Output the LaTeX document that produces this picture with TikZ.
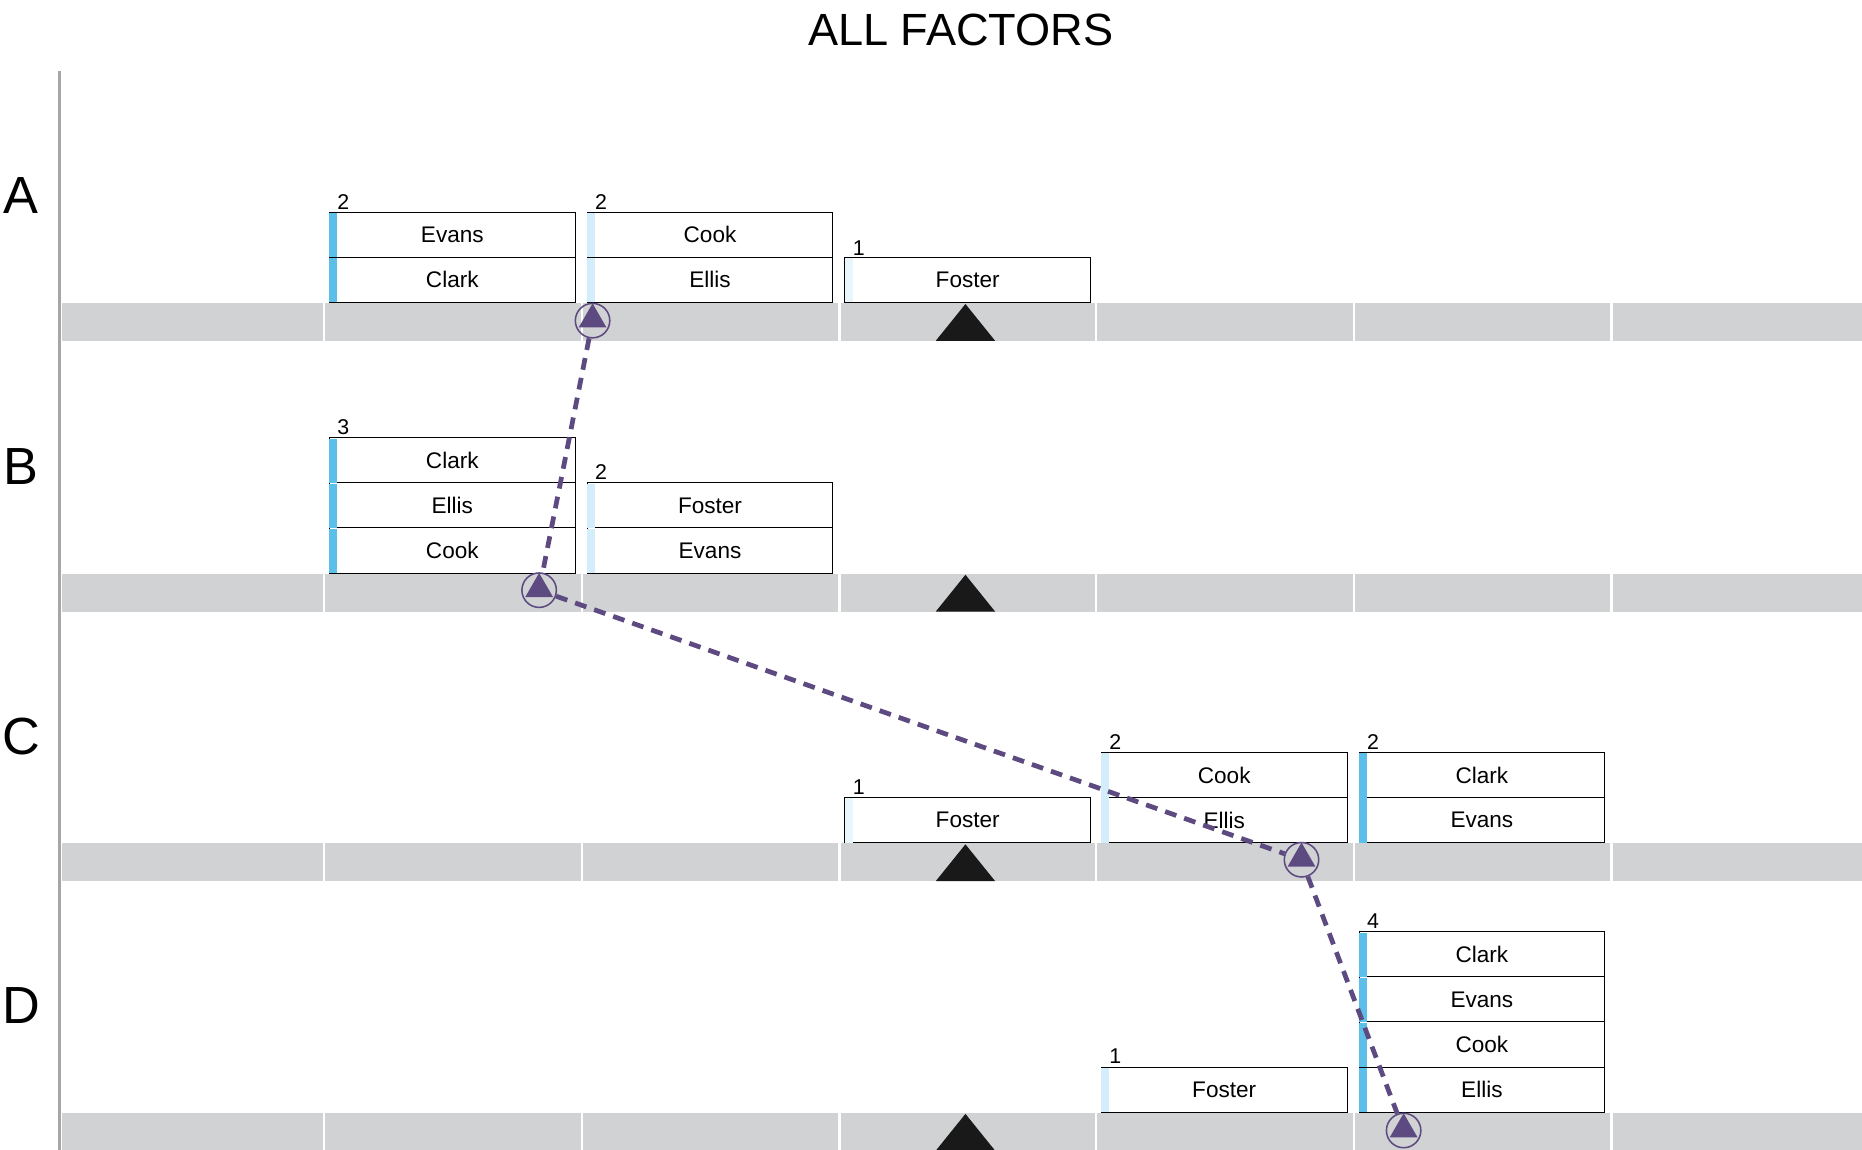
\documentclass[tikz,border=0pt]{standalone}
\usepackage{fontspec}
\setmainfont{Liberation Sans}
\usetikzlibrary{shapes.geometric}
\definecolor{barg}{HTML}{D1D2D4}
\definecolor{dblue}{HTML}{5BBFEA}
\definecolor{lblue}{HTML}{D3EDFA}
\definecolor{pur}{HTML}{5D4A80}
\tikzset{
 box/.style={draw=black,line width=0.8pt,minimum width=207pt,minimum height=38pt,inner sep=0pt,anchor=south west,font=\fontsize{19}{19}\selectfont},
 cnt/.style={anchor=south west,inner sep=0pt,font=\fontsize{18}{18}\selectfont},
 rowl/.style={anchor=center,font=\fontsize{44}{44}\selectfont},
 pmark/.style={circle,draw=pur,line width=1.3pt,minimum size=29pt,inner sep=0pt},
 tri/.style={regular polygon,regular polygon sides=3,fill=pur,minimum size=27pt,inner sep=0pt},
 link/.style={pur,line width=4pt,dash pattern=on 10pt off 7pt},
}
\newcommand\mybox[5]{%
 \node[box] (#1) at (#2,-#3) {#4};
 \fill[#5] (#2+0.4,-#3+0.4) rectangle (#2+7,-#3+37.6);
}
\newcommand\mybar[1]{%
 \fill[barg] (52,-#1) rectangle (1568,-#1-32);
 \foreach \t in {273,490,707,923,1140,1357}{\draw[white,line width=2pt] (\t,-#1) -- (\t,-#1-32);}
 \fill[black!90] (788,-#1-32) -- (838,-#1-32) -- (813,-#1-1) -- cycle;
}
\begin{document}
\begin{tikzpicture}[x=1pt,y=1pt]
\useasboundingbox[fill=white] (0,0) rectangle (1568,-968);
\node[font=\fontsize{38}{38}\selectfont] (title) at (809,-25) {ALL FACTORS};
\draw[gray!70,line width=3pt] (50,-60) -- (50,-968);
\node[rowl] (la) at (18,-165) {A};
\node[rowl] (lb) at (18,-393) {B};
\node[rowl] (lc) at (18,-620) {C};
\node[rowl] (ld) at (18,-847) {D};
\mybar{255}\mybar{483}\mybar{710}\mybar{937}
% Row A
\mybox{a1}{277}{255}{Clark}{dblue}
\mybox{a2}{277}{217}{Evans}{dblue}
\node[cnt] (ca1) at (284,-177) {2};
\mybox{a3}{494}{255}{Ellis}{lblue}
\mybox{a4}{494}{217}{Cook}{lblue}
\node[cnt] (ca2) at (501,-177) {2};
\mybox{a5}{711}{255}{Foster}{lblue!50}
\node[cnt] (ca3) at (718,-215) {1};
% Row B
\mybox{b1}{277}{483}{Cook}{dblue}
\mybox{b2}{277}{445}{Ellis}{dblue}
\mybox{b3}{277}{407}{Clark}{dblue}
\node[cnt] (cb1) at (284,-366) {3};
\mybox{b4}{494}{483}{Evans}{lblue}
\mybox{b5}{494}{445}{Foster}{lblue}
\node[cnt] (cb2) at (501,-404) {2};
% Row C
\mybox{c1}{711}{710}{Foster}{lblue!50}
\node[cnt] (cc1) at (718,-669) {1};
\mybox{c2}{927}{710}{Ellis}{lblue}
\mybox{c3}{927}{672}{Cook}{lblue}
\node[cnt] (cc2) at (934,-631) {2};
\mybox{c4}{1144}{710}{Evans}{dblue}
\mybox{c5}{1144}{672}{Clark}{dblue}
\node[cnt] (cc3) at (1151,-631) {2};
% Row D
\mybox{d1}{927}{937}{Foster}{lblue}
\node[cnt] (cd1) at (934,-896) {1};
\mybox{d2}{1144}{937}{Ellis}{dblue}
\mybox{d3}{1144}{899}{Cook}{dblue}
\mybox{d4}{1144}{861}{Evans}{dblue}
\mybox{d5}{1144}{823}{Clark}{dblue}
\node[cnt] (cd2) at (1151,-782) {4};
% markers
\node[pmark] (ma) at (499,-270) {};
\node[pmark] (mb) at (454,-497) {};
\node[pmark] (mc) at (1096,-724) {};
\node[pmark] (md) at (1182,-952) {};
\draw[link] (ma) -- (mb);
\draw[link] (mb) -- (mc);
\draw[link] (mc) -- (md);
\foreach \m in {ma,mb,mc,md}{\node[tri] at ([yshift=1pt]\m.center) {};}
\end{tikzpicture}
\end{document}
